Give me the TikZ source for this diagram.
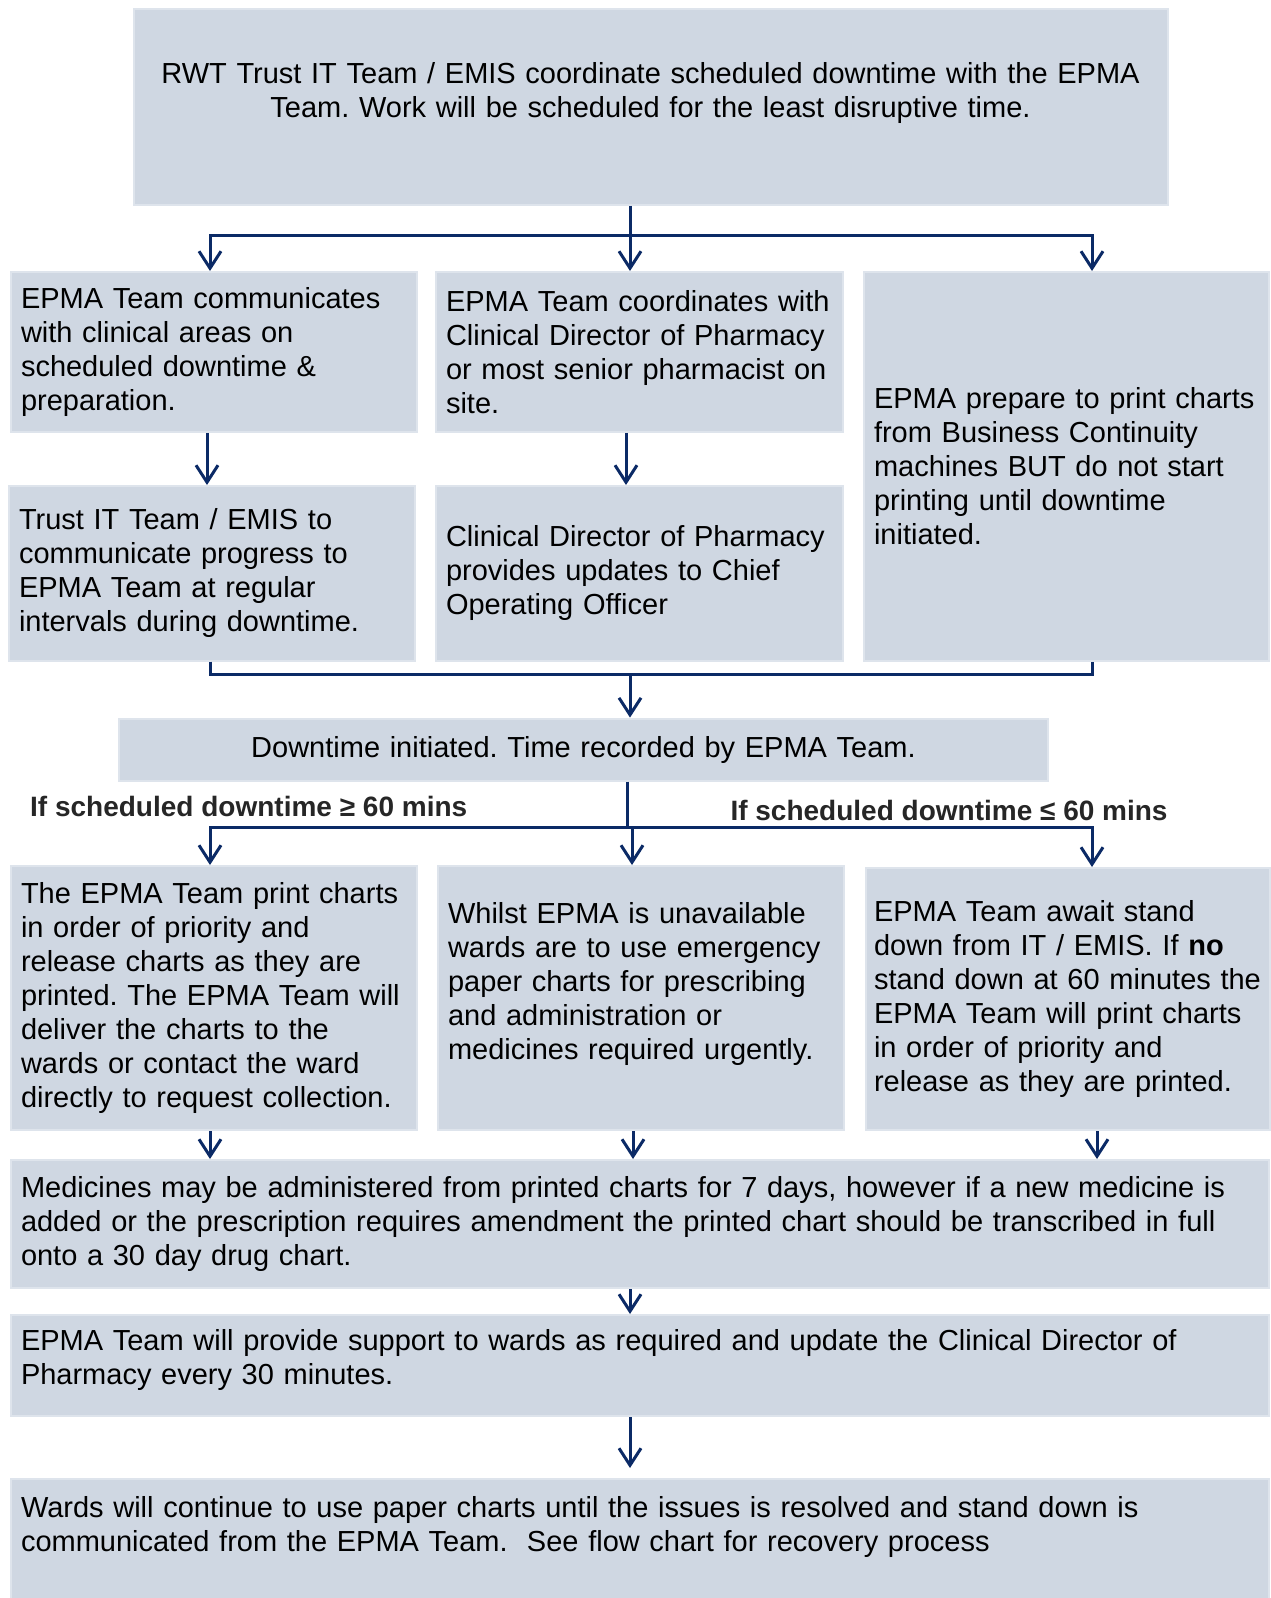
\documentclass[tikz,border=0pt]{standalone}
\usepackage{fontspec}
\setmainfont{Liberation Sans}
\frenchspacing
\usetikzlibrary{arrows.meta}
\definecolor{epblue}{HTML}{0B2A66}
\definecolor{epfill}{HTML}{CFD7E2}
\definecolor{epedge}{HTML}{DEE4EC}
\definecolor{eptext}{HTML}{262626}
\tikzset{
  stage/.style ={draw=epedge, line width=1pt, fill=epfill, anchor=north west,
                 inner xsep=5pt, inner ysep=0pt, align=left,
                 font=\fontsize{14.5}{17}\selectfont},
  link/.style  ={draw=epblue, line width=1.5pt},
  flow/.style  ={link, -{Straight Barb[length=8.5pt,width=11pt]}},
  cond/.style  ={font=\fontsize{14}{17}\selectfont\bfseries, text=eptext},
}

\begin{document}
\begin{tikzpicture}[x=0.5pt, y=-0.5pt]
  \useasboundingbox (0,0) rectangle (1270,1598);
  % columns and rails of the connectors
  \coordinate (cl) at (210,0);
  \coordinate (cm) at (630,0);
  \coordinate (cr) at (1092,0);
  \coordinate (r1) at (0,235.5);
  \coordinate (r2) at (0,674.8);
  \coordinate (r3) at (0,827.7);

  % planning
  \node[stage, align=center, text width=507pt, minimum height=98pt] (plan) at (132.5,8)
    {RWT Trust IT Team / EMIS coordinate scheduled downtime with the EPMA\\
     Team. Work will be scheduled for the least disruptive time.\\\mbox{}};
  \node[stage, text width=193pt, minimum height=80pt] (comm) at (10,271)
    {EPMA Team communicates\\ with clinical areas on\\ scheduled downtime \&\\ preparation.};
  \node[stage, text width=193.5pt, minimum height=80pt] (coord) at (435,271)
    {EPMA Team coordinates with\\ Clinical Director of Pharmacy\\ or most senior pharmacist on\\ site.};
  \node[stage, text width=192.5pt, minimum height=194.25pt] (prep) at (863,271)
    {EPMA prepare to print charts\\ from Business Continuity\\ machines BUT do not start\\ printing until downtime\\ initiated.};
  \node[stage, text width=193pt, minimum height=87.25pt] (progress) at (8,485)
    {Trust IT Team / EMIS to\\ communicate progress to\\ EPMA Team at regular\\ intervals during downtime.};
  \node[stage, text width=193.5pt, minimum height=87.25pt] (update) at (435,485)
    {Clinical Director of Pharmacy\\ provides updates to Chief\\ Operating Officer};

  % downtime
  \node[stage, align=center, text width=454.5pt, minimum height=31pt] (start) at (118,717.6)
    {Downtime initiated. Time recorded by EPMA Team.};
  \node[cond] (long) at (248.7,806) {If scheduled downtime ≥ 60 mins};
  \node[cond] (short) at (949,810) {If scheduled downtime ≤ 60 mins};
  \node[stage, text width=193pt, minimum height=132pt] (print) at (10,865)
    {The EPMA Team print charts\\ in order of priority and\\ release charts as they are\\ printed. The EPMA Team will\\ deliver the charts to the\\ wards or contact the ward\\ directly to request collection.};
  \node[stage, text width=193pt, minimum height=132pt] (paper) at (437,865)
    {Whilst EPMA is unavailable\\ wards are to use emergency\\ paper charts for prescribing\\ and administration or\\ medicines required urgently.\\\mbox{}};
  \node[stage, inner xsep=4pt, text width=194pt, minimum height=131pt] (await) at (865,867)
    {EPMA Team await stand\\ down from IT / EMIS. If \textbf{no}\\ stand down at 60 minutes the\\ EPMA Team will print charts\\ in order of priority and\\ release as they are printed.};
  \node[stage, text width=619pt, minimum height=64pt] (admin) at (10,1159)
    {Medicines may be administered from printed charts for 7 days, however if a new medicine is\\
     added or the prescription requires amendment the printed chart should be transcribed in full\\
     onto a 30 day drug chart.};
  \node[stage, text width=619pt, minimum height=50.5pt] (support) at (10,1314)
    {EPMA Team will provide support to wards as required and update the Clinical Director of\\
     Pharmacy every 30 minutes.\\[-8pt]\mbox{}};
  \node[stage, text width=619pt, minimum height=60pt] (resolve) at (10,1478)
    {Wards will continue to use paper charts until the issues is resolved and stand down is\\
     communicated from the EPMA Team.\ \ See flow chart for recovery process\\[-2pt]\mbox{}};

  % connectors
  \draw[flow] (cm |- plan.south) -- (cm |- coord.north);
  \draw[flow] (cm |- r1) -| (cl |- comm.north);
  \draw[flow] (cm |- r1) -| (cr |- prep.north);
  \draw[flow] (207,0 |- comm.south) -- (207,0 |- progress.north);
  \draw[flow] (626,0 |- coord.south) -- (626,0 |- update.north);
  \draw[link] (cl |- progress.south) |- (cr |- r2) -- (cr |- prep.south);
  \draw[flow] (cm |- r2) -- (cm |- start.north);
  \draw[link] (627,0 |- start.south) -- (627,0 |- r3);
  \draw[flow] (632,0 |- r3) -- (632,0 |- paper.north);
  \draw[flow] (cm |- r3) -| (cl |- print.north);
  \draw[flow] (cm |- r3) -| (cr |- await.north);
  \draw[flow] (cl |- print.south) -- (cl |- admin.north);
  \draw[flow] (633,0 |- paper.south) -- (633,0 |- admin.north);
  \draw[flow] (1097,0 |- await.south) -- (1097,0 |- admin.north);
  \draw[flow] (cm |- admin.south) -- (cm |- support.north);
  \draw[flow, shorten >=5pt] (cm |- support.south) -- (cm |- resolve.north);
\end{tikzpicture}
\end{document}
